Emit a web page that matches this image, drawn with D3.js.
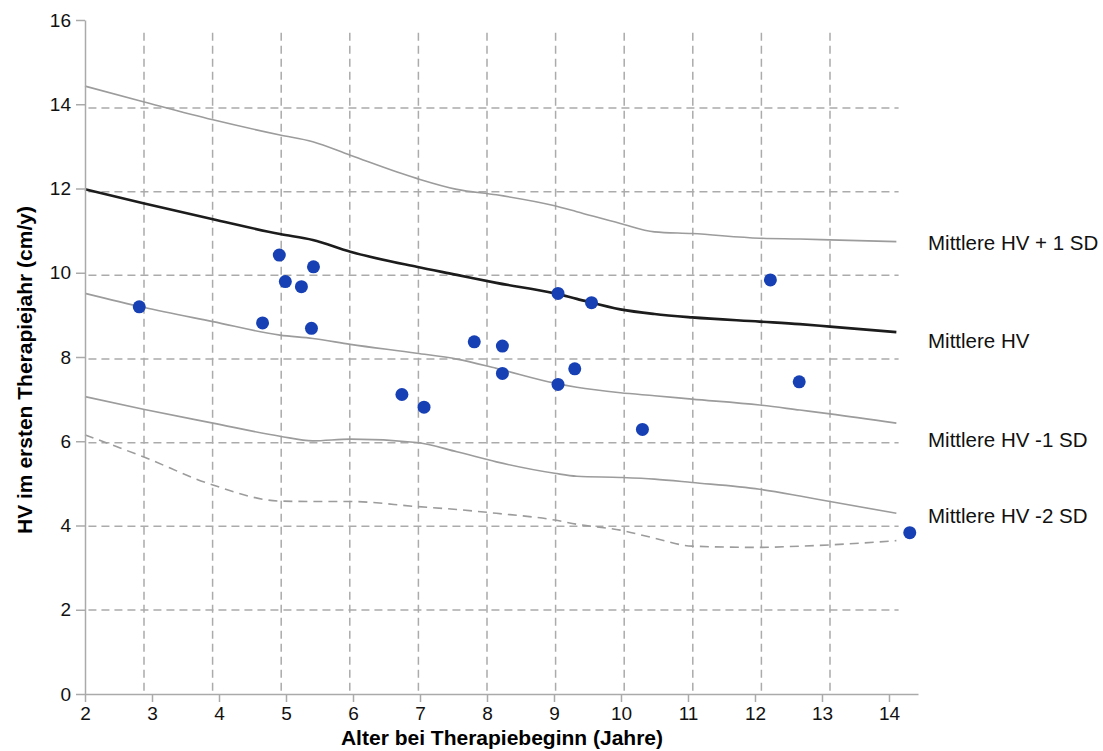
<!DOCTYPE html>
<html>
<head>
<meta charset="utf-8">
<script src="https://cdn.jsdelivr.net/npm/d3@7"></script>
<style>
  body { margin: 0; background: #fff; }
  text { font-family: "Liberation Sans", Arial, Helvetica, sans-serif; }
</style>
</head>
<body>
<div id="chart"></div>
<script>
// Reference curves (age in years, HV in cm/y)
var ages = [2, 2.87, 3.91, 4.91, 5.4, 5.96, 6.95, 7.55, 8.14, 9.01, 9.34, 9.99, 10.5, 11.06, 12.07, 12.67, 13.12, 14.11];
var plus1SD  = [14.43, 14.06, 13.63, 13.27, 13.11, 12.79, 12.24, 11.98, 11.85, 11.59, 11.45, 11.17, 10.97, 10.93, 10.82, 10.8, 10.78, 10.74];
var meanHV   = [11.98, 11.65, 11.27, 10.92, 10.78, 10.5, 10.14, 9.95, 9.76, 9.51, 9.38, 9.13, 9.02, 8.94, 8.84, 8.78, 8.72, 8.59];
var minus1SD = [9.51, 9.18, 8.84, 8.52, 8.44, 8.3, 8.09, 7.95, 7.73, 7.38, 7.28, 7.15, 7.08, 7.0, 6.86, 6.74, 6.65, 6.43];
var minus2SD = [7.06, 6.76, 6.43, 6.12, 6.01, 6.05, 5.97, 5.75, 5.51, 5.24, 5.17, 5.14, 5.1, 5.02, 4.86, 4.7, 4.57, 4.29];
var minus3SD = [6.15, 5.63, 4.96, 4.58, 4.57, 4.57, 4.45, 4.38, 4.29, 4.13, 4.03, 3.89, 3.7, 3.51, 3.48, 3.51, 3.54, 3.64];

// Patients: age at start of therapy and HV in the first year
var patientAge = [2.81, 4.65, 4.90, 4.99, 5.23, 5.41, 5.38, 6.73, 7.06, 7.81, 8.23, 8.23, 9.06, 9.06, 9.31, 9.56, 10.32, 12.23, 12.66, 14.31];
var patientHV  = [9.19, 8.81, 10.42, 9.79, 9.67, 10.14, 8.68, 7.11, 6.81, 8.36, 8.26, 7.61, 9.51, 7.35, 7.72, 9.29, 6.28, 9.83, 7.41, 3.83];

// Curve labels and the HV level they sit at
var labelText = ["Mittlere HV + 1 SD", "Mittlere HV", "Mittlere HV -1 SD", "Mittlere HV -2 SD"];
var labelHV   = [10.54, 8.21, 5.86, 4.06];

// Tick labels
var xTicks = [2, 3, 4, 5, 6, 7, 8, 9, 10, 11, 12, 13, 14];
var yTicks = [0, 2, 4, 6, 8, 10, 12, 14, 16];

// grid of the scanned percentile sheet (slightly shifted against the axes)
var gridX = [3, 4, 5, 6, 7, 8, 9, 10, 11, 12, 13];
var gridY = [2, 4, 6, 8, 10, 12, 14];

var svg = d3.select("#chart").append("svg")
    .attr("width", 1103)
    .attr("height", 751);

// Scales
var x = d3.scaleLinear().domain([2, 14.433]).range([85, 918]);
var y = d3.scaleLinear().domain([0, 16]).range([694, 20]);
var xGrid = d3.scaleLinear().domain([3, 13]).range([144, 830]);
var yGrid = d3.scaleLinear().domain([2, 14]).range([610, 108]);

// Grid
var grid = svg.append("g")
    .attr("stroke", "#ababab")
    .attr("stroke-width", 1.5)
    .attr("stroke-dasharray", "8,5");

grid.selectAll(".vgrid").data(gridX).enter().append("line")
    .attr("x1", function(d){ return xGrid(d); })
    .attr("x2", function(d){ return xGrid(d); })
    .attr("y1", yGrid(15.8))
    .attr("y2", yGrid(0));

grid.selectAll(".hgrid").data(gridY).enter().append("line")
    .attr("y1", function(d){ return yGrid(d); })
    .attr("y2", function(d){ return yGrid(d); })
    .attr("x1", xGrid(2.19))
    .attr("x2", xGrid(14));

// Reference lines
var line = d3.line()
    .x(function(d){ return x(d[0]); })
    .y(function(d){ return y(d[1]); })
    .curve(d3.curveMonotoneX);

function pairs(vals) {
    return ages.map(function(a, i){ return [a, vals[i]]; });
}

var curves = [
    { vals: minus3SD, color: "#9c9c9c", width: 1.6, dash: "9,6" },
    { vals: minus2SD, color: "#9c9c9c", width: 1.6, dash: null },
    { vals: minus1SD, color: "#9c9c9c", width: 1.6, dash: null },
    { vals: plus1SD,  color: "#9c9c9c", width: 1.6, dash: null },
    { vals: meanHV,   color: "#1c1c1c", width: 2.6, dash: null }
];

curves.forEach(function(c) {
    svg.append("path")
        .attr("d", line(pairs(c.vals)))
        .attr("fill", "none")
        .attr("stroke", c.color)
        .attr("stroke-width", c.width)
        .attr("stroke-dasharray", c.dash);
});

// Axes
var xAxis = svg.append("g")
    .attr("transform", "translate(0," + y(0) + ")")
    .call(d3.axisBottom(x).tickValues(xTicks).tickSize(8).tickSizeOuter(0).tickPadding(5));
var yAxis = svg.append("g")
    .attr("transform", "translate(" + x(2) + ",0)")
    .call(d3.axisLeft(y).tickValues(yTicks).tickSize(9).tickSizeOuter(0).tickPadding(5));

[xAxis, yAxis].forEach(function(a) {
    a.select(".domain").attr("stroke", "#aaa").attr("stroke-width", 1.5);
    a.selectAll(".tick line").attr("stroke", "#aaa").attr("stroke-width", 1.5);
    a.selectAll(".tick text")
        .attr("fill", "#111")
        .style("font-size", "19px")
        .style("font-family", "'Liberation Sans', Arial, sans-serif");
});

// Patient points
svg.selectAll(".dot").data(patientAge).enter().append("circle")
    .attr("cx", function(d){ return x(d); })
    .attr("cy", function(d, i){ return y(patientHV[i]); })
    .attr("r", 6.5)
    .attr("fill", "#1740b4");

// Curve labels
svg.selectAll(".lbl").data(labelText).enter().append("text")
    .attr("x", 928)
    .attr("y", function(d, i){ return y(labelHV[i]); })
    .attr("fill", "#111")
    .style("font-size", "20.5px")
    .text(function(d){ return d; });

// Axis titles
svg.append("text")
    .attr("x", 502)
    .attr("y", 745)
    .attr("text-anchor", "middle")
    .style("font-size", "21px")
    .style("font-weight", "bold")
    .text("Alter bei Therapiebeginn (Jahre)");

svg.append("text")
    .attr("transform", "translate(32,370) rotate(-90)")
    .attr("text-anchor", "middle")
    .style("font-size", "21px")
    .style("font-weight", "bold")
    .text("HV im ersten Therapiejahr (cm/y)");
</script>
</body>
</html>
